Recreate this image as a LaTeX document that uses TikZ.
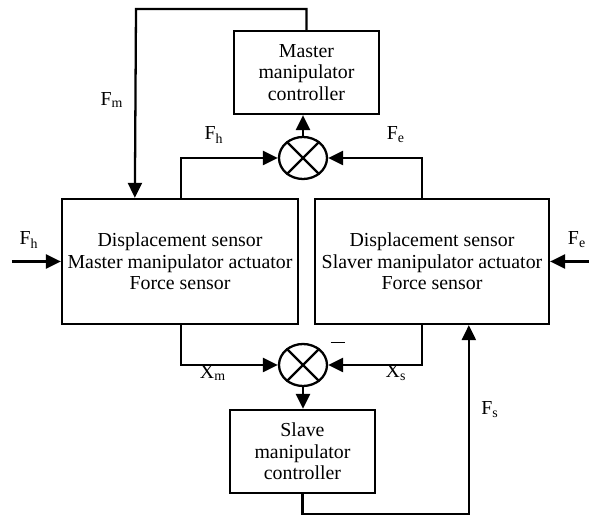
\documentclass[tikz,border=0pt]{standalone}
\usepackage{fontspec}
\setmainfont{Liberation Serif}
\usetikzlibrary{arrows.meta,shapes.geometric,positioning}

\tikzset{
  blk/.style={draw, line width=1.3pt, align=center, inner sep=0pt},
  sumnode/.style={draw, ellipse, line width=1.3pt, minimum width=0.96cm, minimum height=0.84cm, inner sep=0pt},
  wire/.style={line width=1.3pt},
  sig/.style={wire, -{Triangle[length=0.3cm,width=0.28cm]}}
}

\begin{document}
\begin{tikzpicture}[x=0.02cm, y=-0.02cm, font=\fontsize{11.3}{12.3}\selectfont]
			%%%%% START %%%%%
			\useasboundingbox (0,0) rectangle (589,516);
			
			% blocks
			\node[blk, minimum width=2.9cm, minimum height=1.66cm] (mctrl) at (306.5,72.5) {Master\\manipulator\\controller};
			\node[blk, minimum width=4.72cm, minimum height=2.5cm] (mdev) at (180,261.5) {Displacement sensor\\Master manipulator actuator\\Force sensor};
			\node[blk, minimum width=4.68cm, minimum height=2.5cm] (sdev) at (432,261.5) {Displacement sensor\\Slaver manipulator actuator\\Force sensor};
			\node[blk, minimum width=2.9cm, minimum height=1.66cm] (sctrl) at (302.5,451.5) {Slave\\manipulator\\controller};
			
			% summing points
			\node[sumnode] (sumf) at (303,158) {};
			\draw[wire] (sumf.45) -- (sumf.225) (sumf.135) -- (sumf.315);
			\node[sumnode] (sumx) at (303,365) {};
			\draw[wire] (sumx.45) -- (sumx.225) (sumx.135) -- (sumx.315);
			
			% taps on the blocks
			\coordinate (fmin) at ([xshift=1.48cm]mdev.north west);
			\coordinate (fmtop) at (136,9);
			\coordinate (fhtap) at ([xshift=2.4cm]mdev.north west);
			\coordinate (fetap) at ([xshift=2.16cm]sdev.north west);
			\coordinate (xmtap) at ([xshift=2.4cm]mdev.south west);
			\coordinate (xstap) at ([xshift=2.16cm]sdev.south west);
			\coordinate (fsin) at ([xshift=3.1cm]sdev.south west);
			\coordinate (fhin) at ([xshift=-0.98cm]mdev.west);
			\coordinate (fein) at ([xshift=0.8cm]sdev.east);
			
			% force loop
			\draw[sig] (mctrl.north) |- (fmtop) -- (fmin);
			\draw[sig] (fhtap) |- (sumf.west);
			\draw[sig] (fetap) |- (sumf.east);
			\draw[sig] (sumf.north) -- (sumf.north |- mctrl.south);
			\draw[sig] (fhin) -- (mdev.west);
			\draw[sig] (fein) -- (sdev.east);
			
			% position loop
			\draw[sig] (xmtap) |- (sumx.west);
			\draw[sig] (xstap) |- (sumx.east);
			\draw[sig] (sumx.south) -- (sumx.south |- sctrl.north);
			\draw[sig] (sctrl.south) -- ++(0,20) -| (fsin);
			
			% labels
			\node (lfm) at (112,100) {F\textsubscript{m}};
			\node (lfht) at (214,135) {F\textsubscript{h}};
			\node (lfet) at (396,135) {F\textsubscript{e}};
			\node (lfhl) at (29,240) {F\textsubscript{h}};
			\node (lfer) at (577,240) {F\textsubscript{e}};
			\node (lxm) at (213,373) {X\textsubscript{m}};
			\node (lxs) at (396,373) {X\textsubscript{s}};
			\node (lfs) at (490,410) {F\textsubscript{s}};
			\node[inner sep=0pt] (lneg) at (338,342) {\rule{0.3cm}{0.5pt}};
			
			%%%%% END %%%%%
\end{tikzpicture}
\end{document}
